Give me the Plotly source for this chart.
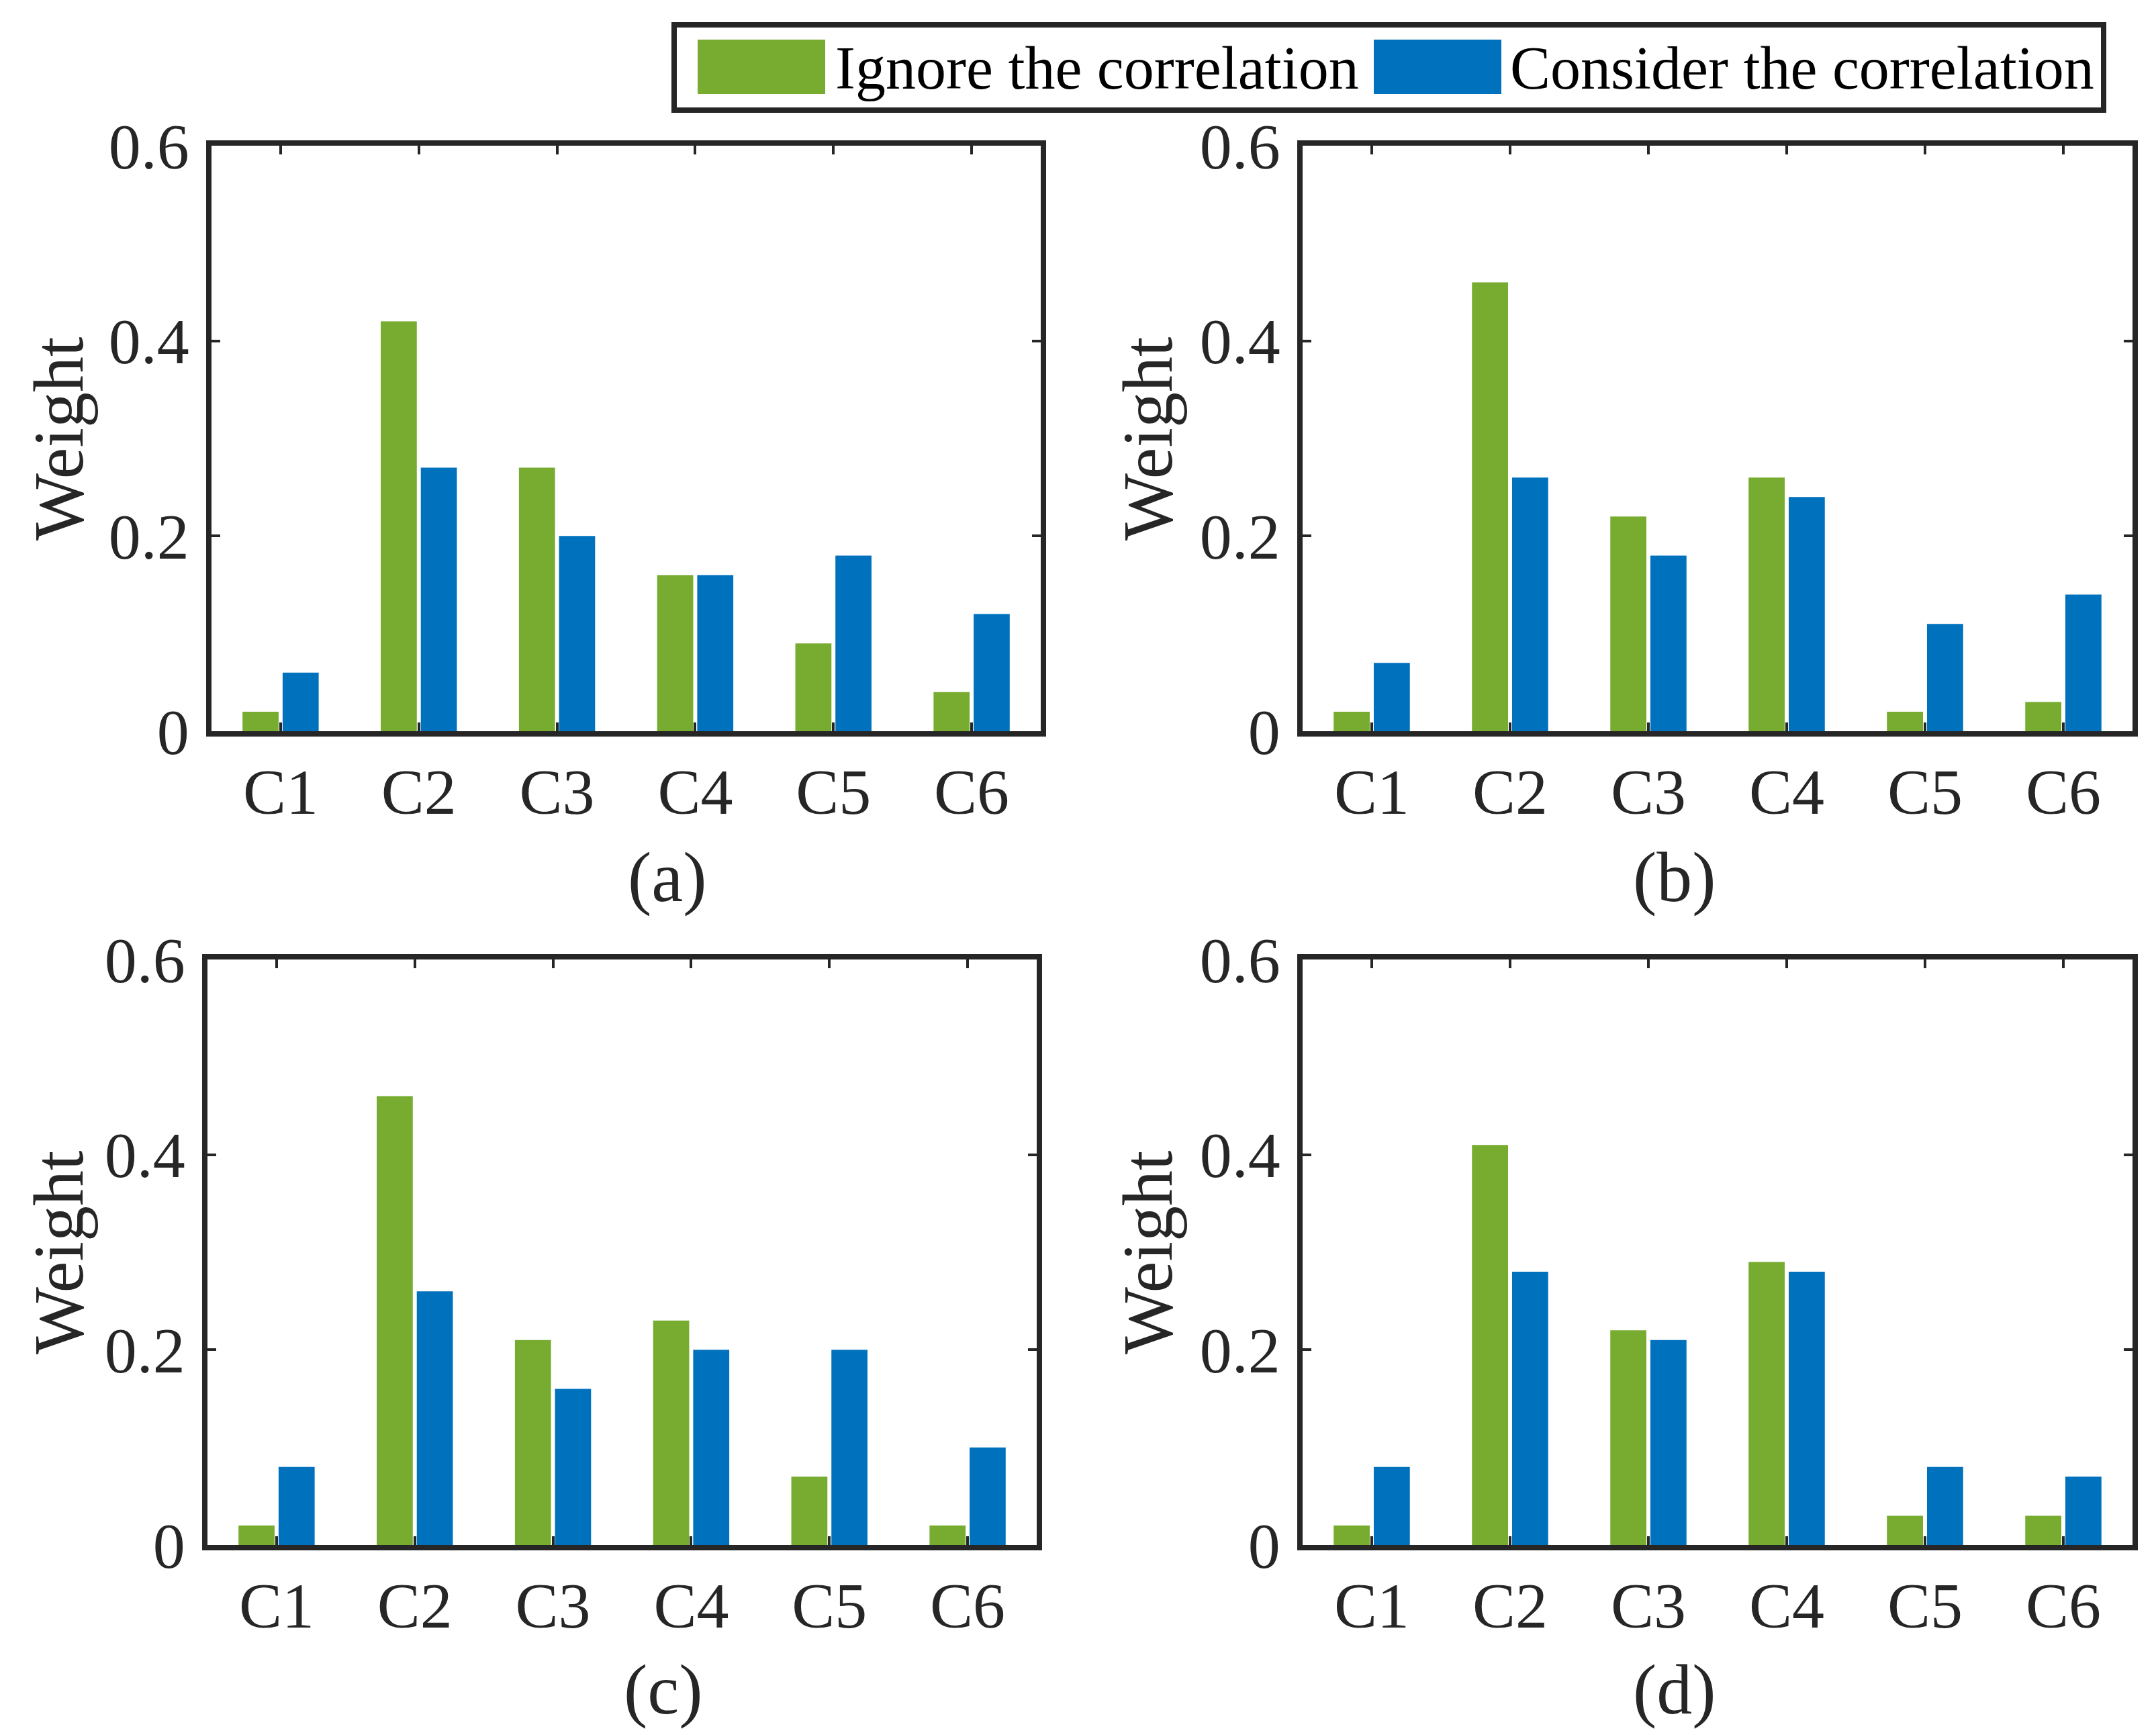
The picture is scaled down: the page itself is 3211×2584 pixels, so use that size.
import plotly.graph_objects as go

categories = ["C1", "C2", "C3", "C4", "C5", "C6"]

# 四個子圖的數據 (忽略相關性 / 考慮相關性)
ignore_a = [0.02, 0.42, 0.27, 0.16, 0.09, 0.04]
consider_a = [0.06, 0.27, 0.20, 0.16, 0.18, 0.12]
ignore_b = [0.02, 0.46, 0.22, 0.26, 0.02, 0.03]
consider_b = [0.07, 0.26, 0.18, 0.24, 0.11, 0.14]
ignore_c = [0.02, 0.46, 0.21, 0.23, 0.07, 0.02]
consider_c = [0.08, 0.26, 0.16, 0.20, 0.20, 0.10]
ignore_d = [0.02, 0.41, 0.22, 0.29, 0.03, 0.03]
consider_d = [0.08, 0.28, 0.21, 0.28, 0.08, 0.07]

panel_labels = ["(a)", "(b)", "(c)", "(d)"]
y_ticks = [0, 0.2, 0.4, 0.6]
y_tick_text = ["0", "0.2", "0.4", "0.6"]
legend_names = ["Ignore the correlation", "Consider the correlation"]

GREEN = "#77AC30"
BLUE = "#0072BD"
INK = "#262626"
FONT = "Liberation Serif"
FS_TICK = 96
FS_LABEL = 106
FS_LEG = 90

W, H = 3211, 2584
OFF = 4  # 頁面 body 邊距補償


def px(x):
    return (x - OFF) / W


def py(y):
    return 1 - (y - OFF) / H


panels = [
    (ignore_a, consider_a), (ignore_b, consider_b),
    (ignore_c, consider_c), (ignore_d, consider_d),
]

# 子圖位置 (像素)
x_doms = [(311, 1546), (1936, 3172), (305, 1540), (1936, 3172)]
y_doms = [(213, 1085), (213, 1085), (1425, 2297), (1425, 2297)]
title_x = [83, 1705, 83, 1705]
label_y = [1302, 1302, 2512, 2512]

fig = go.Figure()

for i, (ign, con) in enumerate(panels):
    n = "" if i == 0 else str(i + 1)
    fig.add_trace(go.Bar(x=categories, y=ign, name=legend_names[0], marker_color=GREEN,
                         marker_line_width=0, xaxis="x" + n, yaxis="y" + n, showlegend=False))
    fig.add_trace(go.Bar(x=categories, y=con, name=legend_names[1], marker_color=BLUE,
                         marker_line_width=0, xaxis="x" + n, yaxis="y" + n, showlegend=False))

    xd = [px(x_doms[i][0]), px(x_doms[i][1])]
    yd = [py(y_doms[i][1]), py(y_doms[i][0])]
    common = dict(
        showline=True, linecolor=INK, linewidth=8, mirror="ticks",
        ticks="inside", ticklen=13, tickwidth=4, tickcolor=INK,
        showgrid=False, zeroline=False, fixedrange=True, automargin=False,
        tickfont=dict(family=FONT, size=FS_TICK, color=INK),
    )
    fig.update_layout(**{
        "xaxis" + n: dict(domain=xd, anchor="y" + n, type="category", range=[-0.5, 5.5],
                          ticklabelstandoff=0, **common),
        "yaxis" + n: dict(domain=yd, anchor="x" + n, range=[0, 0.6],
                          tickvals=y_ticks, ticktext=y_tick_text, ticklabelstandoff=6, **common),
    })
    # 縱軸標題
    fig.add_annotation(x=px(title_x[i]), y=sum(yd) / 2,
                       xref="paper", yref="paper", text="Weight", textangle=-90,
                       showarrow=False, xanchor="center", yanchor="middle",
                       font=dict(family=FONT, size=FS_LABEL, color=INK))
    # 子圖編號
    fig.add_annotation(x=sum(xd) / 2, y=py(label_y[i]), xref="paper", yref="paper",
                       text=panel_labels[i], showarrow=False, yanchor="middle",
                       font=dict(family=FONT, size=FS_LABEL, color=INK))

# 自繪圖例框
fig.add_shape(type="rect", xref="paper", yref="paper",
              x0=px(1000), x1=px(3129), y0=py(160), y1=py(33),
              line=dict(color=INK, width=8), fillcolor="white")
for (px0, px1, tx), color, name in zip([(1035, 1225, 1238), (2042, 2232, 2243)],
                                       [GREEN, BLUE], legend_names):
    fig.add_shape(type="rect", xref="paper", yref="paper",
                  x0=px(px0), x1=px(px1), y0=py(136), y1=py(55),
                  line=dict(width=0), fillcolor=color)
    fig.add_annotation(x=px(tx), y=py(98), xref="paper", yref="paper",
                       xanchor="left", yanchor="middle", text=name, showarrow=False,
                       font=dict(family=FONT, size=FS_LEG, color="black"))

fig.update_layout(
    width=W, height=H,
    margin=dict(l=0, r=0, t=0, b=0),
    paper_bgcolor="white", plot_bgcolor="white",
    barmode="group", bargap=0.42, bargroupgap=0.1,
    showlegend=False,
)

fig.write_html("out.html")
